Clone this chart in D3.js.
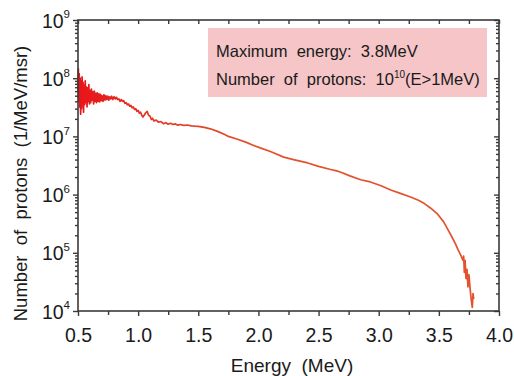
<!DOCTYPE html>
<html><head><meta charset="utf-8">
<script src="https://cdn.jsdelivr.net/npm/d3@7"></script>
<style>
html,body{margin:0;padding:0;background:#fff;}
svg{display:block;font-family:"Liberation Sans",Arial,Helvetica,sans-serif;}
</style></head>
<body><svg id="c" width="514" height="376"></svg>
<script>
// ---- data ----
const energy = [
0.500,0.503,0.507,0.510,0.514,0.518,0.522,0.526,0.530,0.534,0.538,0.542,0.546,0.550,0.555,0.560,0.565,0.570,0.575,0.580,
0.585,0.590,0.595,0.600,0.606,0.612,0.618,0.624,0.630,0.636,0.642,0.648,0.654,0.660,0.667,0.674,0.680,0.687,0.694,0.700,
0.708,0.716,0.724,0.732,0.740,0.748,0.756,0.764,0.772,0.780,0.790,0.800,0.810,0.820,0.830,0.840,0.850,0.860,0.870,0.880,
0.890,0.900,0.910,0.920,0.930,0.940,0.950,0.960,0.970,0.980,0.990,1.000,1.010,1.020,1.030,1.040,1.050,1.060,1.075,1.085,
1.100,1.110,1.120,1.130,1.150,1.170,1.190,1.210,1.230,1.250,1.270,1.290,1.310,1.330,1.350,1.380,1.410,1.440,1.470,1.500,
1.550,1.600,1.660,1.720,1.750,1.820,1.900,1.960,2.020,2.100,2.210,2.300,2.410,2.500,2.600,2.650,2.680,2.760,2.850,2.930,
3.020,3.100,3.180,3.270,3.330,3.380,3.430,3.490,3.540,3.580,3.610,3.640,3.660,3.680,3.700,3.706,3.712,3.718,3.726,3.734,
3.742,3.750,3.760,3.770,3.778,3.784,3.790];
const protons = [
6.0e7,1.45e8,4.0e7,1.2e8,3.2e7,1.0e8,2.4e7,9.0e7,3.0e7,1.05e8,4.0e7,8.5e7,2.6e7,7.5e7,3.5e7,9.0e7,3.8e7,7.0e7,3.2e7,6.8e7,
4.0e7,7.8e7,3.6e7,6.2e7,3.8e7,6.5e7,4.2e7,5.8e7,3.6e7,6.0e7,4.0e7,5.5e7,3.8e7,5.6e7,4.0e7,5.4e7,3.9e7,5.3e7,4.1e7,5.0e7,
4.0e7,5.2e7,4.2e7,5.0e7,4.3e7,4.9e7,4.2e7,4.8e7,4.4e7,4.9e7,4.3e7,4.8e7,4.4e7,4.7e7,4.3e7,4.4e7,4.0e7,4.3e7,4.0e7,4.1e7,
3.7e7,3.8e7,3.5e7,3.6e7,3.3e7,3.4e7,3.1e7,3.2e7,2.9e7,3.0e7,2.7e7,2.8e7,2.5e7,2.6e7,2.3e7,2.15e7,2.3e7,2.5e7,2.7e7,2.35e7,
2.2e7,1.95e7,2.05e7,1.85e7,1.9e7,1.75e7,1.8e7,1.65e7,1.72e7,1.62e7,1.68e7,1.6e7,1.64e7,1.56e7,1.6e7,1.55e7,1.57e7,1.52e7,1.5e7,1.49e7,
1.43e7,1.35e7,1.22e7,1.08e7,1.0e7,9.0e6,7.9e6,7.0e6,6.3e6,5.5e6,4.4e6,3.95e6,3.5e6,3.05e6,2.7e6,2.55e6,2.45e6,2.1e6,1.8e6,1.65e6,
1.42e6,1.2e6,1.05e6,9.0e5,8.0e5,7.0e5,5.9e5,4.6e5,3.4e5,2.4e5,1.85e5,1.4e5,1.12e5,9.3e4,7.5e4,8.8e4,4.6e4,7.4e4,3.6e4,5.2e4,
2.6e4,4.2e4,2.4e4,1.5e4,1.15e4,2.0e4,1.6e4];
const xMajorTicks = [0.5,1.0,1.5,2.0,2.5,3.0,3.5,4.0];
const xMinorTicks = [0.75,1.25,1.75,2.25,2.75,3.25,3.75];
const yExponents = [4,5,6,7,8,9];
const xTitle = "Energy  (MeV)";
const yTitle = "Number  of  protons  (1/MeV/msr)";
const noteLine1 = "Maximum  energy:  3.8MeV";
const noteLine2a = "Number  of  protons:  10";
const noteLine2sup = "10";
const noteLine2b = "(E>1MeV)";

// ---- layout ----
const L = 78, R = 499, T = 20, B = 311;
const svg = d3.select("#c");
const x = d3.scaleLinear().domain([0.5, 4]).range([L, R]);
const y = d3.scaleLog().domain([1e4, 1e9]).range([B, T]);

const majorY = yExponents.map(e => Math.pow(10, e));
const minorY = [];
yExponents.slice(0, -1).forEach(e => { for (let k = 2; k <= 9; k++) minorY.push(k * Math.pow(10, e)); });

const axisColor = "#3a3a3a";

// annotation box
svg.append("rect").attr("x", 208).attr("y", 28).attr("width", 279).attr("height", 69)
  .attr("fill", "#f5c5c7");

const t1 = svg.append("text").attr("x", 216).attr("y", 57).attr("font-size", 16.5).attr("fill", "#1a1a1a")
  .style("white-space", "pre").text(noteLine1);
const t2 = svg.append("text").attr("x", 216).attr("y", 85).attr("font-size", 16.5).attr("fill", "#1a1a1a")
  .style("white-space", "pre");
t2.append("tspan").text(noteLine2a);
t2.append("tspan").attr("font-size", 10).attr("dy", -7).text(noteLine2sup);
t2.append("tspan").attr("dy", 7).text(noteLine2b);

// gradient for the line
const defs = svg.append("defs");
const grad = defs.append("linearGradient").attr("id", "lg").attr("gradientUnits", "userSpaceOnUse")
  .attr("x1", x(0.5)).attr("x2", x(2.0)).attr("y1", 0).attr("y2", 0);
grad.append("stop").attr("offset", "0%").attr("stop-color", "#e8141a");
grad.append("stop").attr("offset", "45%").attr("stop-color", "#e33a22");
grad.append("stop").attr("offset", "100%").attr("stop-color", "#e2522e");

const line = d3.line().x((d, i) => x(energy[i])).y((d, i) => y(protons[i]));
svg.append("path").datum(protons).attr("d", line).attr("fill", "none")
  .attr("stroke", "url(#lg)").attr("stroke-width", 1.7).attr("stroke-linejoin", "round");

// axes
function styleAxis(g) {
  g.select(".domain").remove();
  g.selectAll(".tick line").attr("stroke", axisColor).attr("stroke-width", 1.4);
  g.selectAll("text").attr("fill", "#1a1a1a");
}
// bottom
svg.append("g").attr("transform", `translate(0,${B})`)
  .call(d3.axisBottom(x).tickValues(xMajorTicks).tickSize(5).tickPadding(12).tickFormat(d3.format(".1f")))
  .call(styleAxis).call(g => g.selectAll("text").attr("font-size", 19.5).attr("font-family", "Liberation Sans, Arial, sans-serif"));
svg.append("g").attr("transform", `translate(0,${B})`)
  .call(d3.axisBottom(x).tickValues(xMinorTicks).tickSize(4).tickFormat(""))
  .call(styleAxis);
// top
svg.append("g").attr("transform", `translate(0,${T})`)
  .call(d3.axisBottom(x).tickValues(xMajorTicks.concat(xMinorTicks)).tickSize(4).tickFormat(""))
  .call(styleAxis);
// left
const leftG = svg.append("g").attr("transform", `translate(${L},0)`)
  .call(d3.axisLeft(y).tickValues(majorY).tickSize(5).tickPadding(8).tickFormat(""))
  .call(styleAxis);
svg.append("g").attr("transform", `translate(${L},0)`)
  .call(d3.axisLeft(y).tickValues(minorY).tickSize(3).tickFormat(""))
  .call(styleAxis);
leftG.selectAll(".tick").each(function(d) {
  const e = Math.round(Math.log10(d));
  const t = d3.select(this).select("text")
    .attr("x", -8).attr("dy", "0.36em").attr("font-size", 19.5).attr("text-anchor", "end").attr("fill", "#1a1a1a");
  t.append("tspan").text("10");
  t.append("tspan").attr("font-size", 11.5).attr("dy", "-0.8em").text(String(e));
});
// right
svg.append("g").attr("transform", `translate(${R},0)`)
  .call(d3.axisLeft(y).tickValues(majorY).tickSize(5).tickFormat(""))
  .call(styleAxis);
svg.append("g").attr("transform", `translate(${R},0)`)
  .call(d3.axisLeft(y).tickValues(minorY).tickSize(3).tickFormat(""))
  .call(styleAxis);

// frame
svg.append("rect").attr("x", L).attr("y", T).attr("width", R - L).attr("height", B - T)
  .attr("fill", "none").attr("stroke", axisColor).attr("stroke-width", 1.6);

// titles
svg.append("text").attr("x", 292).attr("y", 372).attr("text-anchor", "middle")
  .attr("font-size", 19).attr("fill", "#1a1a1a").style("white-space", "pre").text(xTitle);
svg.append("text").attr("transform", `translate(27,${(T + B) / 2 + 18}) rotate(-90)`).attr("text-anchor", "middle")
  .attr("font-size", 18.5).attr("fill", "#1a1a1a").style("white-space", "pre").text(yTitle);
</script></body></html>
